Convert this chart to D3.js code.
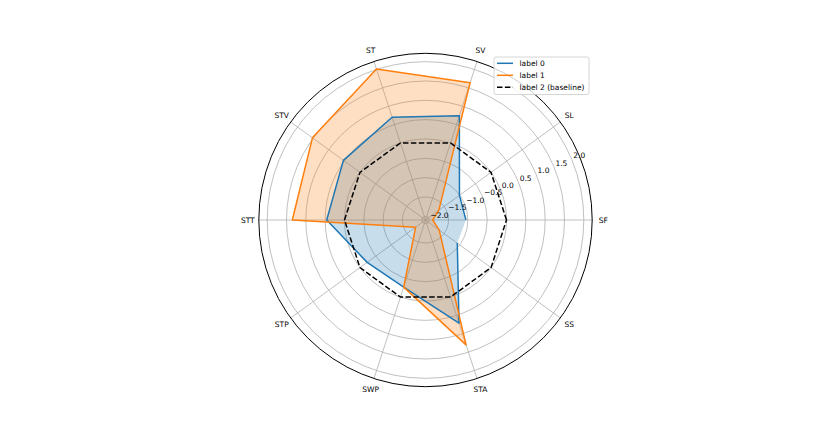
<!DOCTYPE html>
<html>
<head>
<meta charset="utf-8">
<script src="https://cdn.jsdelivr.net/npm/d3@7"></script>
<style>
  html, body { margin: 0; padding: 0; background: #fff; }
  svg { display: block; font-family: "DejaVu Sans", sans-serif; }
</style>
</head>
<body>
<svg id="chart" width="830" height="443"></svg>
<script>
// ---- data ----
const categories = ["SF", "SL", "SV", "ST", "STV", "STT", "STP", "SWP", "STA", "SS"];
const label0 = [-1.05, -1.01, 0.74, 0.70, 0.53, 0.46, -0.23, -0.27, 0.71, -1.08];
const label1 = [-1.91, -1.67, 1.64, 2.01, 1.52, 1.35, -1.78, -0.27, 1.30, -1.66];
const label2 = [0, 0, 0, 0, 0, 0, 0, 0, 0, 0];
const seriesNames = ["label 0", "label 1", "label 2 (baseline)"];
const rTicks = [-2.0, -1.5, -1.0, -0.5, 0.0, 0.5, 1.0, 1.5, 2.0];
const rDomain = [-2.096, 2.217];

// ---- layout ----
const svg = d3.select("#chart");
const cx = 425.5, cy = 220, R = 166.7;
const r = d3.scaleLinear().domain(rDomain).range([0, R]);
const ang = d3.scaleLinear().domain([0, categories.length]).range([0, 2 * Math.PI]);
const px = (i, v) => cx + r(v) * Math.cos(ang(i));
const py = (i, v) => cy - r(v) * Math.sin(ang(i));

const g = svg.append("g");

// grid circles
g.selectAll("circle.grid").data(rTicks).enter().append("circle")
  .attr("cx", cx).attr("cy", cy).attr("r", d => r(d))
  .attr("fill", "none").attr("stroke", "#b0b0b0").attr("stroke-width", 0.8);

// angular grid lines
g.selectAll("line.spoke").data(categories).enter().append("line")
  .attr("x1", cx).attr("y1", cy)
  .attr("x2", (d, i) => cx + R * Math.cos(ang(i)))
  .attr("y2", (d, i) => cy - R * Math.sin(ang(i)))
  .attr("stroke", "#b0b0b0").attr("stroke-width", 0.8);

// series
const colors = ["#1f77b4", "#ff7f0e", "#000000"];
const pts = vals => vals.map((v, i) => [px(i, v), py(i, v)]);
const lineOpen = d3.line();
const lineClosed = d3.line().curve(d3.curveLinearClosed);

// fills
g.append("path").attr("d", lineClosed(pts(label0)))
  .attr("fill", colors[0]).attr("fill-opacity", 0.25).attr("stroke", "none");
g.append("path").attr("d", lineClosed(pts(label1)))
  .attr("fill", colors[1]).attr("fill-opacity", 0.25).attr("stroke", "none");

// lines
g.append("path").attr("d", lineOpen(pts(label0)))
  .attr("fill", "none").attr("stroke", colors[0]).attr("stroke-width", 1.5)
  .attr("stroke-linejoin", "round");
g.append("path").attr("d", lineClosed(pts(label1)))
  .attr("fill", "none").attr("stroke", colors[1]).attr("stroke-width", 1.5)
  .attr("stroke-linejoin", "round");
g.append("path").attr("d", lineClosed(pts(label2)))
  .attr("fill", "none").attr("stroke", colors[2]).attr("stroke-width", 1.5)
  .attr("stroke-dasharray", "5.5,2.4");

// outer spine
g.append("circle").attr("cx", cx).attr("cy", cy).attr("r", R)
  .attr("fill", "none").attr("stroke", "#000").attr("stroke-width", 1);

// radial tick labels at 22.5 degrees
const ra = 22.5 * Math.PI / 180;
g.selectAll("text.rtick").data(rTicks).enter().append("text")
  .attr("x", d => cx + r(d) * Math.cos(ra) + 1.5)
  .attr("y", d => cy - r(d) * Math.sin(ra) - 1)
  .attr("font-size", 7.5).attr("fill", "#000")
  .text(d => d3.format(".1f")(d).replace("-", "\u2212"));

// category labels
const LR = 177.7;
g.selectAll("text.cat").data(categories).enter().append("text")
  .attr("x", (d, i) => cx + LR * Math.cos(ang(i)))
  .attr("y", (d, i) => cy - LR * Math.sin(ang(i)))
  .attr("text-anchor", "middle").attr("dominant-baseline", "central")
  .attr("font-size", 7.5).attr("fill", "#000")
  .text(d => d);

// legend
const lg = svg.append("g").attr("transform", "translate(494,57)");
lg.append("rect").attr("width", 95).attr("height", 37.5).attr("rx", 2)
  .attr("fill", "#fff").attr("fill-opacity", 0.8)
  .attr("stroke", "#cccccc").attr("stroke-width", 0.8);
seriesNames.forEach((name, i) => {
  const y = 6.3 + i * 12;
  lg.append("line").attr("x1", 3).attr("x2", 19).attr("y1", y).attr("y2", y)
    .attr("stroke", colors[i]).attr("stroke-width", 1.5)
    .attr("stroke-dasharray", i === 2 ? "5.5,2.4" : null);
  lg.append("text").attr("x", 25.5).attr("y", y)
    .attr("dominant-baseline", "central").attr("font-size", 7.5).attr("fill", "#000")
    .text(name);
});
</script>
</body>
</html>
